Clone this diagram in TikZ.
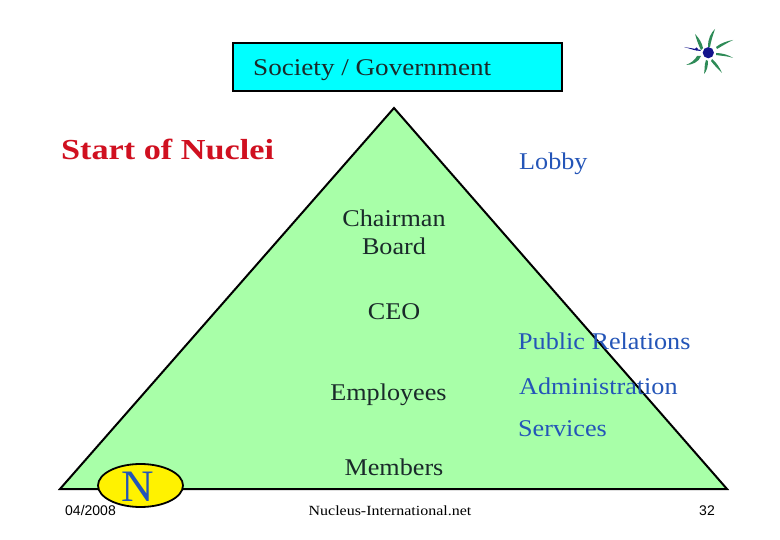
\documentclass[tikz,border=0pt]{standalone}
\usetikzlibrary{shapes.geometric}
\usepackage{fontspec}
\setmainfont{Liberation Serif}
\newfontfamily\footfont{Liberation Sans}
\newfontfamily\bodyfont[FakeStretch=1.09]{Liberation Serif}
\newfontfamily\widefont[FakeStretch=1.13]{Liberation Serif}
\newfontfamily\sitefont[FakeStretch=1.14]{Liberation Serif}
\newfontfamily\titlefont[FakeStretch=1.18]{Liberation Serif}
\definecolor{triGreen}{HTML}{A8FFA8}
\definecolor{boxCyan}{HTML}{00FFFF}
\definecolor{blueText}{HTML}{2455B8}
\definecolor{redText}{HTML}{D01020}
\definecolor{inkText}{HTML}{1A2A2A}
\definecolor{rayGreen}{HTML}{2E8B57}
\definecolor{hubBlue}{HTML}{14148C}
\tikzset{
  x=1pt,y=-1pt,
  shapeline/.style={draw=black,line width=2pt,line join=miter},
  blk/.style={inner sep=0pt,text=inkText,font=\bodyfont\fontsize{24}{28}\selectfont,align=center},
  blu/.style={inner sep=0pt,text=blueText,font=\bodyfont\fontsize{24}{28}\selectfont,anchor=west},
  foot/.style={inner sep=0pt,text=black,font=\footfont\fontsize{14}{16}\selectfont},
  ray/.style={fill=rayGreen,draw=none}
}
\begin{document}
\begin{tikzpicture}
\useasboundingbox (0,0) rectangle (780,540);
\fill[white] (0,0) rectangle (780,540);
\path[shapeline,fill=triGreen] (394,108) -- (60,489) -- (727,489) -- cycle;
\node[shapeline,fill=boxCyan,minimum width=329pt,minimum height=48pt,inner sep=0pt] (society) at (397.5,67) {};
\node[blk,anchor=west,font=\widefont\fontsize{24}{28}\selectfont] (societyText) at (253,70) {Society / Government};
\node[inner sep=0pt,text=redText,anchor=west,font=\titlefont\bfseries\fontsize{29}{32}\selectfont] (start) at (61,149) {Start of Nuclei};
\node[blu] (lobby) at (519,163.5) {Lobby};
\node[blk] (chair) at (394,232) {Chairman\\Board};
\node[blk] (ceo) at (394,312) {CEO};
\node[blk] (emp) at (388.5,394.5) {Employees};
\node[blk] (mem) at (394,467) {Members};
\node[blu] (pr) at (518,341) {Public Relations};
\node[blu] (adm) at (519,386) {Administration};
\node[blu] (svc) at (518,429) {Services};
\node[ellipse,draw=black,line width=1.8pt,fill=yellow,minimum width=85pt,minimum height=43pt,inner sep=0pt] (logo) at (140.5,485.5) {};
\node[inner sep=0pt,text=blueText,font=\fontsize{45}{48}\selectfont] (logoN) at (138,487) {N};
\node[foot,anchor=west] (date) at (65,510.5) {04/2008};
\node[foot,font=\sitefont\fontsize{14}{16}\selectfont] (site) at (390,510.5) {Nucleus-International.net};
\node[foot,anchor=east] (page) at (715,510.5) {32};
% emblem
\path[ray] (701,50) .. controls (697,42) and (696,37) .. (695,34) .. controls (699,38) and (702,43) .. (703,48) -- cycle;
\path[ray] (708,47) .. controls (708,38) and (711,33) .. (715,29) .. controls (713,35) and (711,41) .. (710,47) -- cycle;
\path[ray] (716,47) .. controls (721,43) and (727,41) .. (733,40) .. controls (727,43) and (722,46) .. (717,49) -- cycle;
\path[ray] (716,53) .. controls (722,53) and (729,55) .. (733,58) .. controls (728,56) and (722,56) .. (716,55) -- cycle;
\path[ray] (712,59) .. controls (716,62) and (720,68) .. (722,73) .. controls (718,69) and (714,65) .. (711,61) -- cycle;
\path[ray] (708,61) .. controls (708,66) and (707,71) .. (704,74) .. controls (705,70) and (704,65) .. (706,60) -- cycle;
\path[ray] (701,56) .. controls (699,62) and (692,65) .. (686,65) .. controls (691,63) and (695,60) .. (697,56) -- cycle;
\path[fill=hubBlue] (700,51) -- (694,50) -- (684,47) -- (693,48.5) -- (701,50) -- cycle;
\fill[hubBlue] (696.5,49) circle (1.6pt);
\fill[hubBlue] (708.3,52.7) circle (5.6pt);
\end{tikzpicture}
\end{document}
